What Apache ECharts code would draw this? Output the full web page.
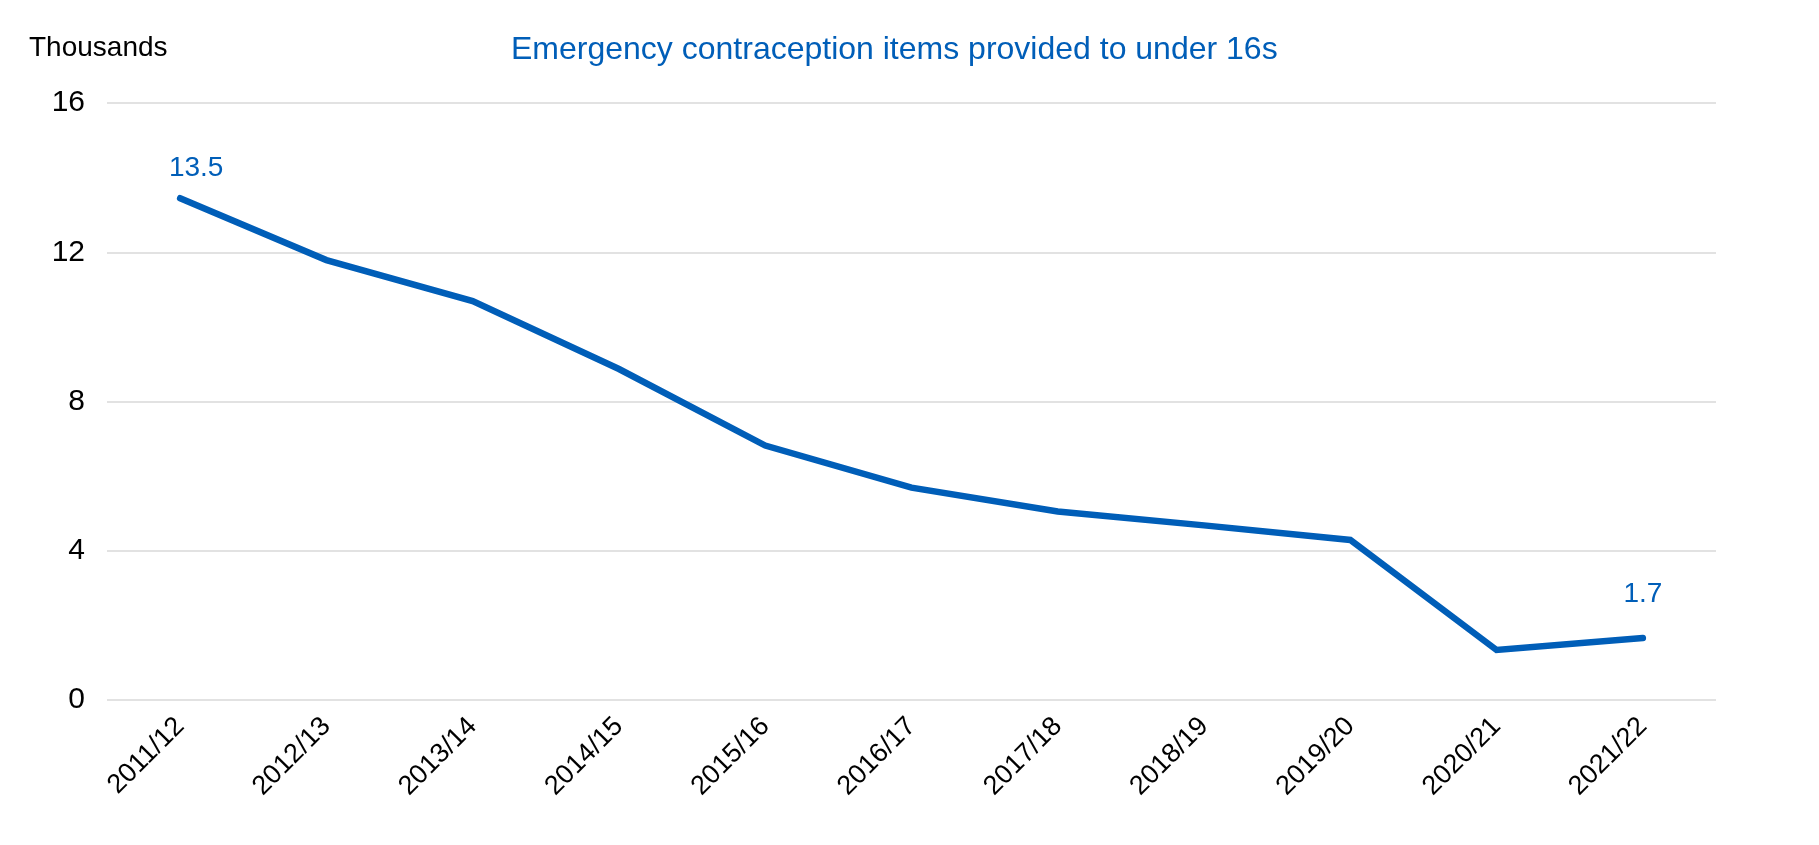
<!DOCTYPE html>
<html>
<head>
<meta charset="utf-8">
<script src="https://cdn.jsdelivr.net/npm/echarts@6/dist/echarts.min.js"></script>
<style>
html,body{margin:0;padding:0;background:#fff;}
#chart{width:1819px;height:845px;}
</style>
</head>
<body>
<div id="chart"></div>
<script>
const categories = ['2011/12','2012/13','2013/14','2014/15','2015/16','2016/17','2017/18','2018/19','2019/20','2020/21','2021/22'];
const values = [13.45, 11.79, 10.69, 8.87, 6.82, 5.69, 5.05, 4.68, 4.29, 1.34, 1.66];
const labelTexts = ['13.5', '', '', '', '', '', '', '', '', '', '1.7'];
const yTicks = [0, 4, 8, 12, 16];
const titleText = 'Emergency contraception items provided to under 16s';
const unitText = 'Thousands';

const FONT = '"Liberation Sans", Arial, sans-serif';
const BLUE = '#005EB8';

const chart = echarts.init(document.getElementById('chart'), null, {renderer: 'canvas'});
const seriesData = values.map((v, i) => {
  const d = {value: v};
  if (labelTexts[i]) {
    d.label = {show: true, formatter: labelTexts[i], position: 'top', distance: i === 0 ? 16 : 30, offset: i === 0 ? [16, 0] : [0, 0]};
  }
  return d;
});
chart.setOption({
  animation: false,
  backgroundColor: '#ffffff',
  title: [
    {text: titleText, left: 506, top: 29, textStyle: {color: BLUE, fontFamily: FONT, fontSize: 32, fontWeight: 'normal'}},
    {text: unitText, left: 24, top: 29, textStyle: {color: '#000', fontFamily: FONT, fontSize: 28, fontWeight: 'normal'}}
  ],
  grid: {left: 107, right: 103, top: 103, bottom: 145, containLabel: false},
  xAxis: {
    type: 'category',
    data: categories,
    boundaryGap: true,
    axisLine: {show: false},
    axisTick: {show: false},
    axisLabel: {rotate: 45, margin: 22, color: '#000', fontFamily: FONT, fontSize: 27, interval: 0}
  },
  yAxis: {
    type: 'value',
    min: yTicks[0],
    max: yTicks[yTicks.length - 1],
    interval: 4,
    axisLine: {show: false},
    axisTick: {show: false},
    axisLabel: {margin: 22, color: '#000', fontFamily: FONT, fontSize: 30},
    splitLine: {lineStyle: {color: '#d9d9d9', width: 1.5}}
  },
  series: [{
    type: 'line',
    data: seriesData,
    symbol: 'circle',
    symbolSize: 0.1,
    showSymbol: true,
    lineStyle: {color: BLUE, width: 6.5, cap: 'round', join: 'miter'},
    itemStyle: {color: BLUE},
    label: {show: false, color: BLUE, fontFamily: FONT, fontSize: 28}
  }]
});
</script>
</body>
</html>
